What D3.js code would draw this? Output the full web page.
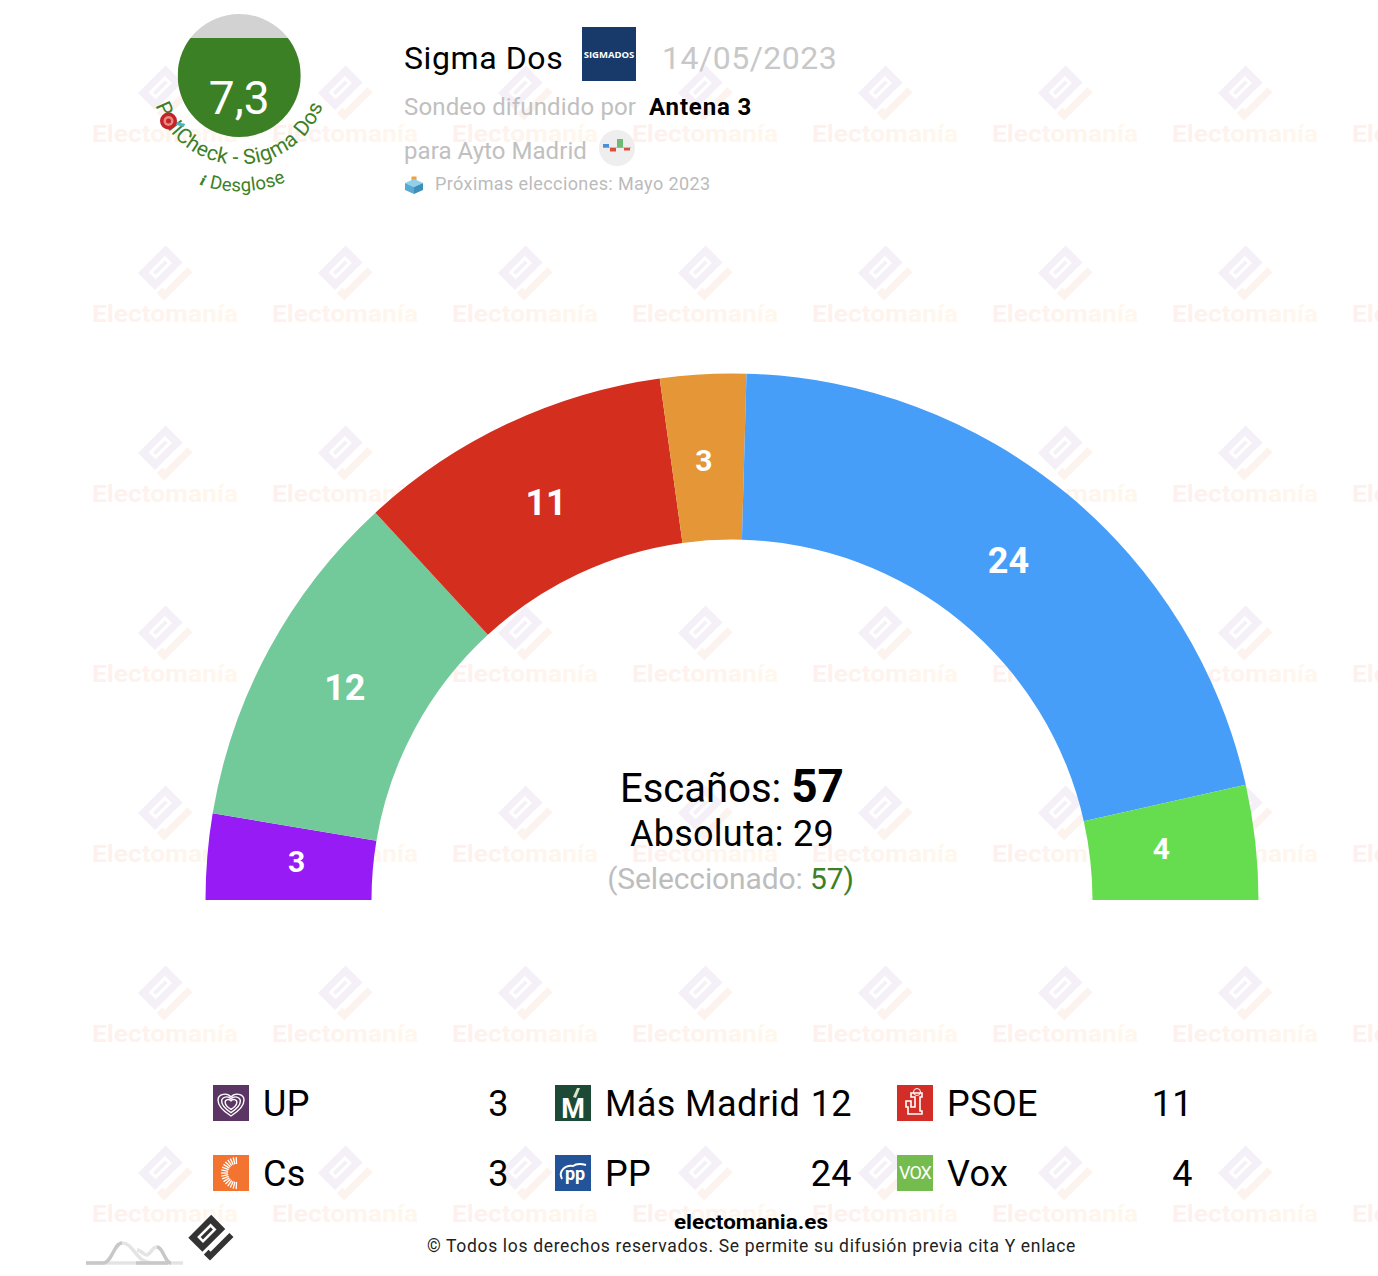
<!DOCTYPE html>
<html>
<head>
<meta charset="utf-8">
<script src="https://cdn.jsdelivr.net/npm/d3@7"></script>
<style>
  html, body { margin: 0; padding: 0; background: #fff; }
  svg { display: block; font-family: Roboto, sans-serif; }
</style>
</head>
<body>
<div id="chart"></div>
<script>
const parties = ["UP", "Más Madrid", "PSOE", "Cs", "PP", "Vox"];
const seats = [3, 12, 11, 3, 24, 4];
const arcColors = ["#961bf5", "#72ca9a", "#d42e1e", "#e59737", "#479ef9", "#66dd4f"];
const logoColors = ["#5b3563", "#1d4a36", "#d22d26", "#f27430", "#235398", "#75bc4f"];
const totalSeats = 57;
const majority = 29;
const selected = 57;
const pollster = "Sigma Dos";
const pollDate = "14/05/2023";
const broadcaster = "Antena 3";
const pollScore = 7.3;

const WIDTH = 1378, HEIGHT = 1276;
const svg = d3.select("#chart").append("svg").attr("width", WIDTH).attr("height", HEIGHT);
const defs = svg.append("defs");

// watermark gradients
const wmText = defs.append("linearGradient").attr("id", "wmText");
wmText.append("stop").attr("offset", "0%").attr("stop-color", "#fdf0ee");
wmText.append("stop").attr("offset", "100%").attr("stop-color", "#fff7ec");

// the electomania logo, drawn from its left corner
function drawLogo(g, bodyColor, footColor, slotColor) {
  g.append("rect").attr("width", 39).attr("height", 24).attr("fill", bodyColor);
  g.append("rect").attr("x", 8).attr("y", 7).attr("width", 23).attr("height", 10).attr("fill", slotColor);
  g.append("rect").attr("x", 11).attr("y", 10).attr("width", 17).attr("height", 4).attr("fill", bodyColor);
  g.append("path").attr("d", "M-1,27.5H7V31H39V38H-1Z").attr("fill", footColor);
}

const wm = svg.append("g").attr("class", "watermark");
d3.range(8).forEach(c => {
  d3.range(7).forEach(r => {
    const x = 165 + c * 180, y = 94 + r * 180;
    const logo = wm.append("g").attr("transform", `translate(${x - 27},${y - 1}) rotate(-45)`);
    drawLogo(logo, "#f5f0f7", "#fdf3ee", "#ffffff");
    wm.append("text").attr("x", x).attr("y", y + 48).attr("text-anchor", "middle")
      .attr("font-size", 24).attr("font-weight", 700).attr("fill", "url(#wmText)")
      .attr("textLength", 146).attr("lengthAdjust", "spacingAndGlyphs")
      .text("Electomanía");
  });
});

// hemicycle
const cx = 732, cy = 900, outerR = 526.5, innerR = 360.5;
const pie = d3.pie().sort(null).startAngle(-Math.PI / 2).endAngle(Math.PI / 2);
const arc = d3.arc().innerRadius(innerR).outerRadius(outerR);
const labelArc = d3.arc().innerRadius(438).outerRadius(438);
const labelSize = d3.scaleThreshold().domain([5]).range([30, 36]);
const labelNudge = [[1, -2.5], [-2, -4.5], [1, -1.5], [-4, -2.5], [-2, -1.5], [-6, -3.5]];

const hemi = svg.append("g").attr("transform", `translate(${cx},${cy})`);
const slices = pie(seats);
hemi.selectAll("path").data(slices).join("path")
  .attr("d", arc)
  .attr("fill", (d, i) => arcColors[i]);
hemi.selectAll("text").data(slices).join("text")
  .attr("x", (d, i) => labelArc.centroid(d)[0] + labelNudge[i][0])
  .attr("y", (d, i) => labelArc.centroid(d)[1] + labelNudge[i][1])
  .attr("dy", "0.36em")
  .attr("text-anchor", "middle")
  .attr("font-weight", 700)
  .attr("font-size", d => labelSize(d.value))
  .attr("fill", "#fff")
  .text(d => d.value);

// centre text
const centre = svg.append("g").attr("text-anchor", "middle");
const t1 = centre.append("text").attr("x", cx).attr("y", 802).attr("font-size", 40);
t1.append("tspan").text("Escaños: ");
t1.append("tspan").attr("font-weight", 700).attr("font-size", 46).text(totalSeats);
centre.append("text").attr("x", cx).attr("y", 846).attr("font-size", 36).attr("letter-spacing", 0.25).text("Absoluta: " + majority);
const t3 = centre.append("text").attr("x", 730.5).attr("y", 889).attr("font-size", 30).attr("letter-spacing", -0.12).attr("fill", "#bdbdbd");
t3.append("tspan").text("(Seleccionado: ");
t3.append("tspan").attr("fill", "#3c8025").text(selected + ")");

// header
const head = svg.append("g");
head.append("text").attr("x", 404).attr("y", 69).attr("font-size", 32).attr("letter-spacing", 0.6).attr("fill", "#000").text(pollster);
head.append("rect").attr("x", 582).attr("y", 27).attr("width", 54).attr("height", 54).attr("fill", "#183a6b");
head.append("text").attr("x", 609).attr("y", 58).attr("text-anchor", "middle").attr("font-size", 9.5)
  .attr("font-family", "Open Sans").attr("font-weight", 700).attr("fill", "#fff").text("SIGMADOS");
head.append("text").attr("x", 662).attr("y", 69).attr("font-size", 32).attr("letter-spacing", 0.5).attr("fill", "#c8c8c8").text(pollDate);
head.append("text").attr("x", 404).attr("y", 115).attr("font-size", 24).attr("letter-spacing", 0.15).attr("fill", "#c0c0c0").text("Sondeo difundido por");
head.append("text").attr("x", 649).attr("y", 115).attr("font-size", 24).attr("font-weight", 700).attr("letter-spacing", 0.85).attr("fill", "#000").text(broadcaster);
head.append("text").attr("x", 404).attr("y", 159).attr("font-size", 24).attr("letter-spacing", 0.06).attr("fill", "#c0c0c0").text("para Ayto Madrid");

// little bars badge
head.append("circle").attr("cx", 617).attr("cy", 148).attr("r", 18).attr("fill", "#eeeeee");
head.append("path").attr("d", "M603,147.5H631").attr("stroke", "#aaa").attr("stroke-width", 0.7);
head.append("rect").attr("x", 603).attr("y", 144).attr("width", 6).attr("height", 3.5).attr("fill", "#4a90d9");
head.append("rect").attr("x", 610).attr("y", 148).attr("width", 6).attr("height", 3.5).attr("fill", "#d9503f");
head.append("rect").attr("x", 617).attr("y", 139).attr("width", 6).attr("height", 8.5).attr("fill", "#6dbb75");
head.append("rect").attr("x", 624).attr("y", 148).attr("width", 6).attr("height", 2.5).attr("fill", "#d9503f");

// ballot box
head.append("rect").attr("x", 411.5).attr("y", 176.5).attr("width", 5).attr("height", 5).attr("fill", "#f0a040");
head.append("path").attr("d", "M405,183L414,179L423,183L414,187Z").attr("fill", "#8fd0ea");
head.append("path").attr("d", "M405,183V190L414,194V187Z").attr("fill", "#5aa9d0");
head.append("path").attr("d", "M423,183V190L414,194V187Z").attr("fill", "#3f8fbc");
head.append("text").attr("x", 435).attr("y", 190).attr("font-size", 18).attr("letter-spacing", 0.4).attr("fill", "#bbbbbb")
  .text("Próximas elecciones: Mayo 2023");

// pollcheck gauge
const gx = 239.2, gy = 75.5, gr = 61.5;
const gaugeY = d3.scaleLinear().domain([0, 10]).range([137, 1.4]);
defs.append("clipPath").attr("id", "gaugeClip").append("circle").attr("cx", gx).attr("cy", gy).attr("r", gr);
const gauge = svg.append("g");
gauge.append("circle").attr("cx", gx).attr("cy", gy).attr("r", gr).attr("fill", "#d2d2d2");
gauge.append("rect").attr("clip-path", "url(#gaugeClip)")
  .attr("x", gx - gr).attr("width", 2 * gr)
  .attr("y", gaugeY(pollScore)).attr("height", gaugeY(0) - gaugeY(pollScore))
  .attr("fill", "#3c8025");
gauge.append("text").attr("x", gx).attr("y", 114).attr("text-anchor", "middle").attr("font-size", 46)
  .attr("fill", "#fff").text(String(pollScore).replace(".", ","));

function bottomArc(id, r) {
  defs.append("path").attr("id", id)
    .attr("d", `M${gx - r},${gy}A${r},${r} 0 0 0 ${gx + r},${gy}`);
}
bottomArc("checkPath", 89);
bottomArc("infoPath", 116);
gauge.append("text").attr("font-size", 21).attr("letter-spacing", 0.35).attr("fill", "#3c8025")
  .append("textPath").attr("href", "#checkPath").attr("startOffset", "50%").attr("text-anchor", "middle")
  .text("PollCheck - Sigma Dos");
const info = gauge.append("text").attr("font-size", 18.5).attr("letter-spacing", 0.3).attr("fill", "#3c8025")
  .append("textPath").attr("href", "#infoPath").attr("startOffset", "51%").attr("text-anchor", "middle");
info.append("tspan").attr("font-family", "DejaVu Serif").attr("font-weight", 700).attr("font-style", "italic").attr("font-size", 14).text("i");
info.append("tspan").text("  Desglose");

// dart on target
gauge.append("path").attr("d", "M172,122L184,125.5").attr("stroke", "#4bb5c4").attr("stroke-width", 3);
gauge.append("circle").attr("cx", 168.5).attr("cy", 121).attr("r", 8.5).attr("fill", "#c5232a");
gauge.append("circle").attr("cx", 168.5).attr("cy", 121).attr("r", 5).attr("fill", "#e98a80");
gauge.append("circle").attr("cx", 168.5).attr("cy", 121).attr("r", 2.5).attr("fill", "#c5232a");

// legend
const colX = d3.scalePoint().domain([0, 1, 2]).range([213, 897]);
const rowY = d3.scalePoint().domain([0, 1]).range([1085, 1155]);
const valueRight = [509, 852, 1193];
const ICON = 36;

function drawIcon(g, i) {
  const s = 36;
  g.append("rect").attr("width", s).attr("height", s).attr("fill", logoColors[i]);
  if (i === 0) {
    // heart rings
    [1, 0.72, 0.45].forEach(k => {
      g.append("path")
        .attr("transform", `translate(18,19) scale(${k})`)
        .attr("d", "M0,12C-8,7 -13,2 -13,-4C-13,-10 -4,-12 0,-7C4,-12 13,-10 13,-4C13,2 8,7 0,12Z")
        .attr("fill", "none").attr("stroke", "#fff").attr("stroke-width", 1.4 / k);
    });
  } else if (i === 1) {
    g.append("text").attr("x", 18).attr("y", 33).attr("text-anchor", "middle").attr("font-size", 27)
      .attr("font-weight", 700).attr("fill", "#fff").text("M");
    g.append("path").attr("d", "M22,3L25,3L21,13L18,12Z").attr("fill", "#d5e6c8");
  } else if (i === 2) {
    g.append("path").attr("d", "M14,8H25V12H23V26H25V29H11V22H9V16H14V22H18V12H14Z")
      .attr("fill", "none").attr("stroke", "#fff").attr("stroke-width", 1.6);
    g.append("circle").attr("cx", 20).attr("cy", 7).attr("r", 3.5).attr("fill", "none").attr("stroke", "#fff");
  } else if (i === 3) {
    d3.range(-8, 9).forEach(k => {
      const a = Math.PI + k * 0.19;
      g.append("line")
        .attr("x1", 24 + 9 * Math.cos(a)).attr("y1", 18 + 9 * Math.sin(a))
        .attr("x2", 24 + 16 * Math.cos(a)).attr("y2", 18 + 16 * Math.sin(a))
        .attr("stroke", "#fff").attr("stroke-width", 1.3);
    });
  } else if (i === 4) {
    g.append("text").attr("x", 20).attr("y", 25).attr("text-anchor", "middle").attr("font-size", 18)
      .attr("font-weight", 700).attr("fill", "#fff").text("pp");
    g.append("path").attr("d", "M7,24C3,16 10,10 18,11C22,8 27,9 31,10")
      .attr("fill", "none").attr("stroke", "#fff").attr("stroke-width", 2);
  } else {
    g.append("text").attr("x", 18).attr("y", 24).attr("text-anchor", "middle").attr("font-size", 18)
      .attr("letter-spacing", -1).attr("fill", "#fff").text("VOX");
  }
}

parties.forEach((p, i) => {
  const c = i % 3, r = Math.floor(i / 3);
  const x = colX(c), y = rowY(r);
  const icon = svg.append("g").attr("transform", `translate(${x},${y})`);
  drawIcon(icon, i);
  svg.append("text").attr("x", x + ICON + 14).attr("y", y + 31).attr("font-size", 36).attr("letter-spacing", 0.4).attr("fill", "#000").text(p);
  svg.append("text").attr("x", valueRight[c]).attr("y", y + 31).attr("text-anchor", "end")
    .attr("font-size", 36).attr("letter-spacing", 0.4).attr("fill", "#000").text(seats[i]);
});

// footer
svg.append("text").attr("x", 751).attr("y", 1229).attr("text-anchor", "middle").attr("font-size", 20)
  .attr("font-weight", 700).attr("textLength", 154).attr("lengthAdjust", "spacingAndGlyphs").attr("fill", "#000").text("electomania.es");
svg.append("text").attr("x", 751.5).attr("y", 1252).attr("text-anchor", "middle").attr("font-size", 17.5)
  .attr("letter-spacing", 0.67).attr("fill", "#222").text("© Todos los derechos reservados. Se permite su difusión previa cita Y enlace");

const foot = svg.append("g").attr("transform", "translate(188.3,1237.7) rotate(-45) scale(0.83)");
drawLogo(foot, "#333333", "#333333", "#ffffff");

const lightHills = ["M86,1263H183", "M122,1243C134,1243 136,1263 152,1263", "M137,1250C142,1250 144,1256 147,1255C151,1254 152,1247 157,1247"];
const darkHills = ["M86,1263H103C112,1263 114,1243 122,1243", "M157,1247C163,1247 165,1263 171,1263", "M136,1263H168"];
lightHills.forEach(d => svg.append("path").attr("d", d).attr("stroke", "#e4e4e4").attr("stroke-width", 3.5).attr("fill", "none"));
darkHills.forEach(d => svg.append("path").attr("d", d).attr("stroke", "#c8c8c8").attr("stroke-width", 3.5).attr("fill", "none"));
</script>
</body>
</html>
